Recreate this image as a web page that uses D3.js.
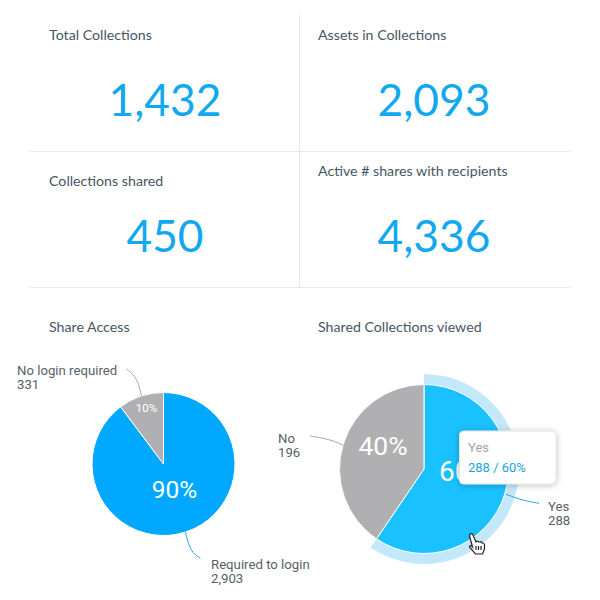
<!DOCTYPE html>
<html>
<head>
<meta charset="utf-8">
<script src="https://cdn.jsdelivr.net/npm/d3@7"></script>
<style>
  html, body { margin: 0; padding: 0; background: #fff; }
  .title { font: 14.2px Lato, sans-serif; fill: #465663; }
  .big { font: 400 44.3px Lato, sans-serif; fill: #12a8f0; text-anchor: middle; }
  .lbl { font: 13.2px Roboto, sans-serif; fill: #5a5f68; }
  .pct { font-family: Roboto, sans-serif; font-weight: 400; fill: #fff; text-anchor: middle; }
</style>
</head>
<body>
<svg id="chart" width="600" height="600"></svg>
<script>
const kpiTitles = ['Total Collections', 'Assets in Collections', 'Collections shared', 'Active # shares with recipients'];
const kpiValues = [1432, 2093, 450, 4336];

const accessLabels = ['Required to login', 'No login required'];
const accessValues = [2903, 331];
const accessPct = ['90%', '10%'];

const viewedLabels = ['Yes', 'No'];
const viewedValues = [288, 196];
const viewedPct = ['60%', '40%'];

const svg = d3.select('#chart');
const fmt = d3.format(',');

// grid lines between the cards
const rule = { stroke: '#e6e8ea', width: 1 };
[[30, 151.5, 570, 151.5], [30, 287.5, 570, 287.5], [299.5, 15, 299.5, 288]].forEach((l) => {
  svg.append('line')
    .attr('x1', l[0]).attr('y1', l[1]).attr('x2', l[2]).attr('y2', l[3])
    .attr('stroke', rule.stroke).attr('stroke-width', rule.width);
});

const titleX = [49, 318, 49, 318];
const titleY = [40, 40, 186, 176];
const bigX = [165, 434, 165, 434];
const bigY = [116, 116, 252, 252];

kpiTitles.forEach((t, i) => {
  svg.append('text').attr('class', 'title').attr('x', titleX[i]).attr('y', titleY[i]).text(t);
  svg.append('text').attr('class', 'big').attr('x', bigX[i]).attr('y', bigY[i]).text(fmt(kpiValues[i]));
});

svg.append('text').attr('class', 'title').attr('x', 49).attr('y', 332).text('Share Access');
svg.append('text').attr('class', 'title').attr('x', 318).attr('y', 332).text('Shared Collections viewed');

const pie = d3.pie().sort(null).value((d) => d);

// point on a circle, d3 arc angle convention (0 = up, clockwise)
function polar(a, r) {
  return [Math.sin(a) * r, -Math.cos(a) * r];
}

function drawPie(cx, cy, radius, values, colors) {
  const g = svg.append('g').attr('transform', `translate(${cx},${cy})`);
  const arcs = pie(values);
  const arc = d3.arc().innerRadius(0).outerRadius(radius);
  g.selectAll('path.slice')
    .data(arcs)
    .join('path')
    .attr('class', 'slice')
    .attr('d', arc)
    .attr('fill', (d, i) => colors[i])
    .attr('stroke', '#fff')
    .attr('stroke-width', 1);
  return { g, arcs };
}

const curve = d3.line().curve(d3.curveBasis);

function leader(g, a, r, dx1, dy1, dx2, dy2, color) {
  const p = polar(a, r);
  g.append('path')
    .attr('d', curve([p, [p[0] + dx1, p[1] + dy1], [p[0] + dx2, p[1] + dy2]]))
    .attr('fill', 'none')
    .attr('stroke', color)
    .attr('stroke-width', 1);
}

function label(x, y, name, value) {
  const t = svg.append('text').attr('class', 'lbl');
  t.append('tspan').attr('x', x).attr('y', y).text(name);
  t.append('tspan').attr('x', x).attr('y', y + 14).text(fmt(value));
}

// Share Access
const a = drawPie(163.5, 464, 71.5, accessValues, ['#00a9ff', '#b0b0b2']);
leader(a.g, 2.83, 71.5, 5, 20, 15, 26, '#2aa7dc');
leader(a.g, a.arcs[1].startAngle + 0.33, 71.5, -4, -18, -15, -27, '#a8a8aa');
a.g.append('text').attr('class', 'pct').attr('x', 11).attr('y', 34).attr('font-size', 24.5).text(accessPct[0]);
a.g.append('text').attr('class', 'pct').attr('x', -17).attr('y', -52).attr('font-size', 11.5).text(accessPct[1]);
label(211, 569, accessLabels[0], accessValues[0]);
label(17, 375, accessLabels[1], accessValues[1]);

// Shared Collections viewed, first slice hovered
const v = drawPie(424, 469, 84.5, viewedValues, ['#1ac1ff', '#b0b0b2']);
v.g.insert('path', ':first-child')
  .attr('d', d3.arc().innerRadius(84).outerRadius(95)(v.arcs[0]))
  .attr('fill', '#c4e8fb');
leader(v.g, 1.87, 86, 16, 6, 33, 9, '#2aa7dc');
leader(v.g, 5.0, 84.5, -14, -6, -33, -9, '#a8a8aa');
v.g.append('text').attr('class', 'pct').attr('x', 41).attr('y', 12).attr('font-size', 28).text(viewedPct[0]);
v.g.append('text').attr('class', 'pct').attr('x', -41).attr('y', -14).attr('font-size', 26.5).text(viewedPct[1]);
label(548, 511, viewedLabels[0], viewedValues[0]);
label(278, 443, viewedLabels[1], viewedValues[1]);

// tooltip
const defs = svg.append('defs');
const shadow = defs.append('filter').attr('id', 'tipShadow')
  .attr('x', '-20%').attr('y', '-20%').attr('width', '140%').attr('height', '150%');
shadow.append('feDropShadow')
  .attr('dx', 0).attr('dy', 1).attr('stdDeviation', 3)
  .attr('flood-color', '#000').attr('flood-opacity', 0.25);

svg.append('rect')
  .attr('x', 459.5).attr('y', 431).attr('width', 96.5).attr('height', 53).attr('rx', 4)
  .attr('fill', '#fff').attr('stroke', '#e4e4e4').attr('filter', 'url(#tipShadow)');
svg.append('text').attr('x', 468).attr('y', 452)
  .attr('font-family', 'Roboto, sans-serif').attr('font-size', 13).attr('fill', '#a3a5a8')
  .text(viewedLabels[0]);
svg.append('text').attr('x', 468).attr('y', 472)
  .attr('font-family', 'Roboto, sans-serif').attr('font-size', 13).attr('fill', '#1aa3e0')
  .text(`${viewedValues[0]} / ${viewedPct[0]}`);

// hand cursor
const hand = svg.append('g').attr('transform', 'translate(467,533)')
  .attr('fill', '#fff').attr('stroke', '#222').attr('stroke-width', 1.2);
hand.append('path')
  .attr('d', 'M3 1 q2 -1 3 1 l3 7 l1 -1 q2 0 2 1 l1 0 q2 -1 2 1 l1 0 q1.5 0 1.5 2 l0 4 l-2 5 l-7 0 l-6 -7 q0 -2 2 -1 l1 1 l-3 -11 z');
[9, 11.5, 14].forEach((x) => {
  hand.append('line').attr('x1', x).attr('y1', 13).attr('x2', x).attr('y2', 17);
});
</script>
</body>
</html>
